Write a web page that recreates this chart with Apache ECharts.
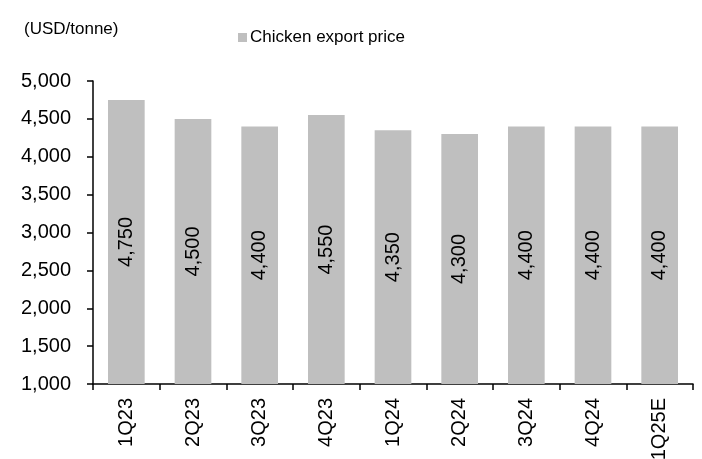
<!DOCTYPE html>
<html lang="en">
<head>
    <meta charset="UTF-8">
    <title>Chicken export price</title>
    <style>
        * { margin: 0; padding: 0; }
        html, body { width: 100%; height: 100%; background: #fff; }
        #main { width: 702px; height: 459px; }
    </style>
    <script src="https://cdn.jsdelivr.net/npm/echarts@6/dist/echarts.min.js"></script>
</head>
<body>
    <div id="main"></div>
<script>
    var quarters = ['1Q23', '2Q23', '3Q23', '4Q23', '1Q24', '2Q24', '3Q24', '4Q24', '1Q25E'];
    var exportPrice = [4750, 4500, 4400, 4550, 4350, 4300, 4400, 4400, 4400];
    var yMin = 1000, yMax = 5000, yStep = 500;

    var font = '"Liberation Sans", Arial, sans-serif';
    function fmt(v) {
        return v.toLocaleString('en-US');
    }

    var myChart = echarts.init(document.getElementById('main'));
    myChart.setOption({
        animation: false,
        textStyle: { fontFamily: font },
        title: {
            text: '(USD/tonne)',
            left: 19,
            top: 16,
            textStyle: { fontFamily: font, fontSize: 17, fontWeight: 'normal', color: '#000' }
        },
        legend: {
            data: ['Chicken export price'],
            left: 233,
            top: 24,
            itemWidth: 9,
            itemHeight: 9,
            icon: 'rect',
            textStyle: { fontFamily: font, fontSize: 17, color: '#000', padding: [0, 0, 0, -2] }
        },
        grid: { left: 93, right: 9, top: 81, bottom: 75, outerBoundsMode: 'none' },
        xAxis: {
            type: 'category',
            data: quarters,
            axisLine: { lineStyle: { color: '#000', width: 1.5 } },
            axisTick: { show: true, length: 6, lineStyle: { color: '#000', width: 1.5 } },
            axisLabel: { rotate: 90, color: '#000', fontSize: 20, margin: 14, fontFamily: font }
        },
        yAxis: {
            type: 'value',
            min: yMin,
            max: yMax,
            interval: yStep,
            splitLine: { show: false },
            axisLine: { show: true, lineStyle: { color: '#000', width: 1.5 } },
            axisTick: { show: true, length: 6, lineStyle: { color: '#000', width: 1.5 } },
            axisLabel: { color: '#000', fontSize: 20, margin: 22, fontFamily: font, formatter: fmt }
        },
        series: [{
            name: 'Chicken export price',
            type: 'bar',
            data: exportPrice,
            barCategoryGap: '45%',
            itemStyle: { color: '#bfbfbf' },
            label: {
                show: true,
                position: 'inside',
                rotate: 90,
                color: '#000',
                fontSize: 20,
                fontFamily: font,
                formatter: function (p) { return fmt(p.value); }
            }
        }]
    });
</script>
</body>
</html>
